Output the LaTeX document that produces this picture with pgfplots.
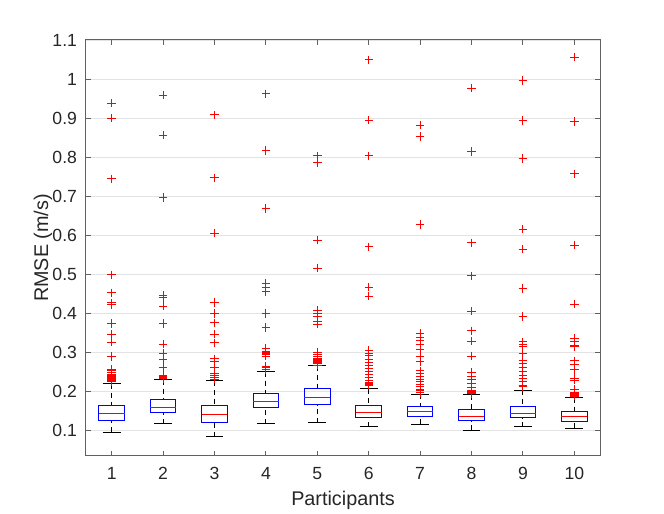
\documentclass[border=0pt]{standalone}
\usepackage{fontspec}
\setmainfont{Liberation Sans}
\usepackage{pgfplots}
\usepackage{pgfplotstable}
\pgfplotsset{compat=1.18}
\usepgfplotslibrary{statistics}
\definecolor{axgray}{gray}{0.38}
\definecolor{gridgray}{gray}{0.89}
\definecolor{txtgray}{gray}{0.15}
\definecolor{outred}{rgb}{1,0,0}
\pgfplotstableread{
x y
1 0.938
1 0.900
1 0.744
1 0.498
1 0.452
1 0.4265
1 0.422
1 0.374
1 0.346
1 0.3256
1 0.289
1 0.2556
1 0.252
1 0.249
1 0.247
1 0.244
1 0.241
1 0.238
1 0.235
1 0.232
1 0.230
1 0.227
1 0.224
2 0.959
2 0.856
2 0.696
2 0.446
2 0.440
2 0.418
2 0.374
2 0.3205
2 0.2966
2 0.282
2 0.262
2 0.241
2 0.238
2 0.236
2 0.2325
3 0.908
3 0.747
3 0.605
3 0.427
3 0.399
3 0.375
3 0.346
3 0.324
3 0.283
3 0.277
3 0.261
3 0.245
3 0.240
3 0.2342
3 0.231
4 0.962
4 0.817
4 0.668
4 0.476
4 0.465
4 0.455
4 0.399
4 0.363
4 0.309
4 0.302
4 0.299
4 0.297
4 0.294
4 0.290
4 0.264
4 0.262
4 0.260
4 0.256
5 0.803
5 0.786
5 0.587
5 0.515
5 0.408
5 0.400
5 0.391
5 0.380
5 0.372
5 0.300
5 0.295
5 0.290
5 0.285
5 0.281
5 0.279
5 0.277
5 0.275
5 0.273
5 0.270
5 0.267
6 1.049
6 0.895
6 0.803
6 0.570
6 0.467
6 0.444
6 0.305
6 0.298
6 0.2915
6 0.281
6 0.2745
6 0.2658
6 0.2573
6 0.2496
6 0.242
6 0.235
6 0.228
6 0.222
6 0.220
6 0.218
6 0.216
6 0.2197
7 0.882
7 0.853
7 0.627
7 0.348
7 0.339
7 0.329
7 0.3205
7 0.307
7 0.289
7 0.2752
7 0.252
7 0.245
7 0.2385
7 0.230
7 0.224
7 0.218
7 0.211
7 0.205
7 0.201
7 0.197
8 0.977
8 0.814
8 0.580
8 0.4957
8 0.405
8 0.355
8 0.328
8 0.290
8 0.248
8 0.239
8 0.230
8 0.220
8 0.2094
8 0.2026
8 0.200
8 0.198
8 0.196
8 0.194
9 0.996
9 0.894
9 0.796
9 0.615
9 0.564
9 0.463
9 0.391
9 0.3265
9 0.3205
9 0.314
9 0.2966
9 0.2795
9 0.271
9 0.2607
9 0.2496
9 0.241
9 0.2316
9 0.224
9 0.2154
9 0.213
9 0.211
10 1.056
10 0.891
10 0.757
10 0.574
10 0.423
10 0.335
10 0.3265
10 0.318
10 0.3137
10 0.278
10 0.269
10 0.2556
10 0.2325
10 0.228
10 0.205
10 0.198
10 0.195
10 0.192
10 0.190
10 0.187
}\outliers
\begin{document}
\begin{tikzpicture}
\useasboundingbox (0,0) rectangle (332pt,257pt);
\begin{axis}[
  at={(43pt,29pt)}, anchor=south west,
  scale only axis, width=257pt, height=208pt,
  xmin=0.5, xmax=10.5, ymin=0.034, ymax=1.1,
  xtick={1,2,3,4,5,6,7,8,9,10},
  ytick={0.1,0.2,0.3,0.4,0.5,0.6,0.7,0.8,0.9,1,1.1},
  ymajorgrids, grid style={gridgray, line width=0.45pt},
  tick align=inside, major tick length=2.6pt,
  axis line style={axgray, line width=0.5pt},
  every tick/.style={axgray, line width=0.5pt},
  ticklabel style={font=\fontsize{8.8}{10}\selectfont, text=txtgray},
  xticklabel style={yshift=-2pt},
  yticklabel style={xshift=-1pt},
  /pgf/number format/assume math mode=true,
  xlabel={Participants}, ylabel={RMSE (m/s)},
  xlabel style={at={(axis description cs:0.5,-0.1202)}, anchor=base, font=\fontsize{9.9}{11}\selectfont, text=txtgray},
  ylabel style={at={(axis description cs:-0.0739,0.5)}, anchor=base, font=\fontsize{9.9}{11}\selectfont, text=txtgray},
  boxplot/draw direction=y,
  boxplot/box extend=0.5,
  boxplot/whisker extend=0.35,
  boxplot/every box/.style={draw=blue, solid, line width=0.5pt},
  boxplot/every median/.style={draw=red, solid, line width=0.5pt},
  boxplot/draw/lower whisker/.code={%
    \draw[black, line width=0.5pt, dash pattern=on 2.5pt off 2pt]
      (boxplot box cs:\pgfplotsboxplotvalue{lower whisker},0.5) --
      (boxplot box cs:\pgfplotsboxplotvalue{lower quartile},0.5);
    \draw[black, solid, line width=0.5pt]
      (boxplot whisker cs:\pgfplotsboxplotvalue{lower whisker},0) --
      (boxplot whisker cs:\pgfplotsboxplotvalue{lower whisker},1);
  },
  boxplot/draw/upper whisker/.code={%
    \draw[black, line width=0.5pt, dash pattern=on 2.5pt off 2pt]
      (boxplot box cs:\pgfplotsboxplotvalue{upper whisker},0.5) --
      (boxplot box cs:\pgfplotsboxplotvalue{upper quartile},0.5);
    \draw[black, solid, line width=0.5pt]
      (boxplot whisker cs:\pgfplotsboxplotvalue{upper whisker},0) --
      (boxplot whisker cs:\pgfplotsboxplotvalue{upper whisker},1);
  },
  bx/.style={black, solid, mark=none},
]
\addplot[only marks, mark=+, mark size=2.1pt, draw=outred, mark options={draw=outred, solid, line width=0.45pt}] table[x=x, y=y] {\outliers};
\addplot[bx, boxplot prepared={draw position=1, median=0.1436, upper quartile=0.164, lower quartile=0.1256, upper whisker=0.2195, lower whisker=0.095}] coordinates {};
\addplot[bx, boxplot prepared={draw position=2, median=0.159, upper quartile=0.1795, lower quartile=0.146, upper whisker=0.229, lower whisker=0.116}] coordinates {};
\addplot[bx, boxplot prepared={draw position=3, median=0.141, upper quartile=0.164, lower quartile=0.121, upper whisker=0.227, lower whisker=0.083}] coordinates {};
\addplot[bx, boxplot prepared={draw position=4, median=0.174, upper quartile=0.195, lower quartile=0.158, upper whisker=0.250, lower whisker=0.116}] coordinates {};
\addplot[bx, boxplot prepared={draw position=5, median=0.183, upper quartile=0.206, lower quartile=0.165, upper whisker=0.2657, lower whisker=0.1187}] coordinates {};
\addplot[bx, boxplot prepared={draw position=6, median=0.146, upper quartile=0.163, lower quartile=0.133, upper whisker=0.2068, lower whisker=0.1085}] coordinates {};
\addplot[bx, boxplot prepared={draw position=7, median=0.1487, upper quartile=0.1606, lower quartile=0.136, upper whisker=0.192, lower whisker=0.1154}] coordinates {};
\addplot[bx, boxplot prepared={draw position=8, median=0.136, upper quartile=0.152, lower quartile=0.1247, upper whisker=0.191, lower whisker=0.100}] coordinates {};
\addplot[bx, boxplot prepared={draw position=9, median=0.1436, upper quartile=0.1606, lower quartile=0.1323, upper whisker=0.2025, lower whisker=0.1085}] coordinates {};
\addplot[bx, boxplot prepared={draw position=10, median=0.134, upper quartile=0.1478, lower quartile=0.123, upper whisker=0.1836, lower whisker=0.105}] coordinates {};
\end{axis}
\end{tikzpicture}
\end{document}
